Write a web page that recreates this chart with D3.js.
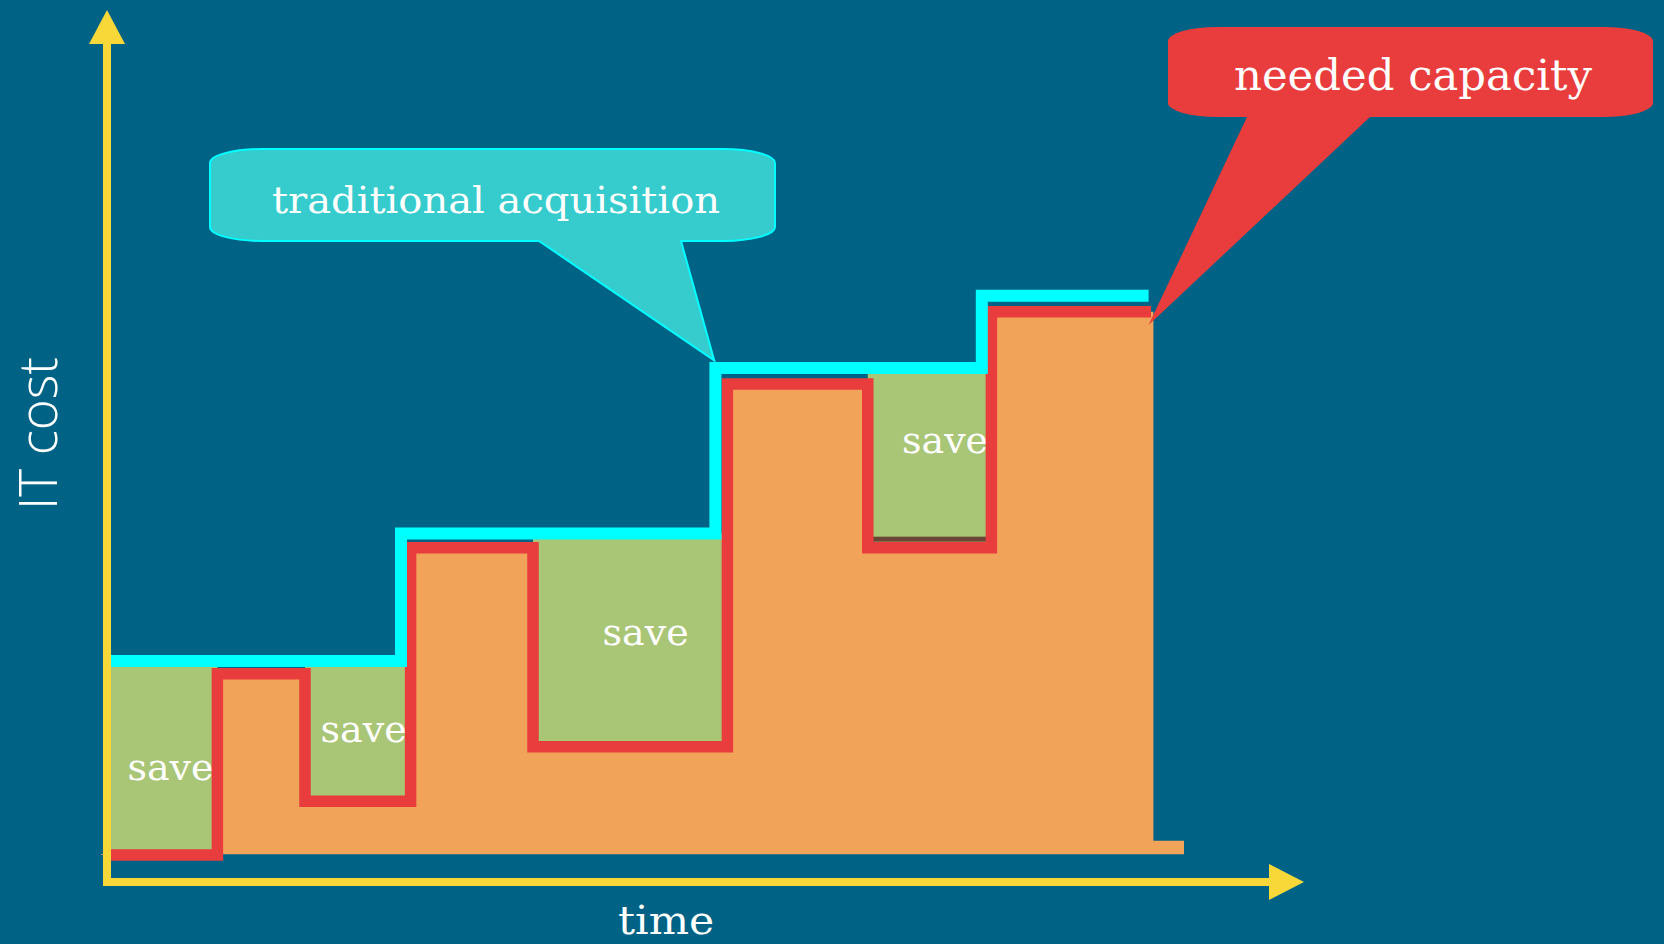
<!DOCTYPE html>
<html>
<head>
<meta charset="utf-8">
<script src="https://cdn.jsdelivr.net/npm/d3@7"></script>
<style>
  html, body { margin: 0; padding: 0; background: #006385; overflow: hidden; }
  svg { display: block; }
</style>
</head>
<body>
<svg id="chart" width="1664" height="944"></svg>
<script>
// Step series: change points in time, and the cost level held after each change
const neededTimes   = [0, 9.2, 16.5, 25.3, 35.5, 51.7, 63.4, 73.7, 87.0];
const neededCost    = [3.2, 24.8, 9.6, 39.8, 16.1, 59.3, 39.8, 67.9];
const acquiredTimes = [0, 24.5, 50.7, 72.9, 86.8];
const acquiredCost  = [26.3, 41.5, 61.2, 69.8];

// Filled capacity body: left/right limits, floor, and the small ledge at the foot
const bodyStart = -0.5, bodyEnd = 87.2, bodyFloor = 3.3;
const ledgeEnd = 89.75, ledgeCost = 4.9;

// Periods where the acquired capacity sits far above what is needed
const savePeriods = [[0, 9.2], [16.5, 25.3], [35.5, 51.7], [63.4, 73.7]];
const saveLabelAt = [[1.7, 12.1], [17.8, 16.7], [41.3, 28.2], [66.25, 51.1]];
const saveText = "save";

// Callout texts and the points their tails point at (time, cost)
const acquiredCalloutText = "traditional acquisition";
const acquiredCalloutTip  = [50.6, 62.1];
const neededCalloutText   = "needed capacity";
const neededCalloutTip    = [86.8, 66.3];

const xTitle = "time";
const yTitle = "IT cost";

const W = 1664, H = 944;
const svg = d3.select("#chart");

const x = d3.scaleLinear().domain([0, 100]).range([107, 1307]);
const y = d3.scaleLinear().domain([0, 100]).range([882, 42]);

const colors = {
  bg: "#006385", body: "#f2a35a", save: "#a9c576", needed: "#e93c3c",
  acquired: "#00ffff", bubble: "#36cbcc", axis: "#f8d838", text: "#ffffff",
  saveEdge: "#6b4535"
};

svg.append("rect").attr("width", W).attr("height", H).attr("fill", colors.bg);

function stepPoints(times, costs) {
  const pts = costs.map((c, i) => [times[i], c]);
  pts.push([times[times.length - 1], costs[costs.length - 1]]);
  return pts;
}
function levelAt(times, costs, t) {
  let i = d3.bisectRight(times, t) - 1;
  i = Math.max(0, Math.min(costs.length - 1, i));
  return costs[i];
}

// Orange body under the needed-capacity steps
const bodyTimes = neededTimes.slice(); bodyTimes[0] = bodyStart; bodyTimes[bodyTimes.length - 1] = bodyEnd;
const bodyPts = neededCost.map((c, i) => [bodyTimes[i], c]);
bodyPts.push([bodyEnd, ledgeCost], [ledgeEnd, ledgeCost]);
svg.append("path")
  .attr("d", d3.area().curve(d3.curveStepAfter)
    .x(d => x(d[0])).y0(y(bodyFloor)).y1(d => y(d[1]))(bodyPts))
  .attr("fill", colors.body);

// Green savings boxes
const saveG = svg.append("g");
savePeriods.forEach(([t0, t1], i) => {
  const mid = (t0 + t1) / 2;
  const top = levelAt(acquiredTimes, acquiredCost, mid);
  const bot = levelAt(neededTimes, neededCost, mid);
  saveG.append("rect")
    .attr("x", x(t0)).attr("width", x(t1) - x(t0))
    .attr("y", y(top)).attr("height", y(bot) - y(top))
    .attr("fill", colors.save);
  if (i === savePeriods.length - 1) {
    // darker lower edge on the last box
    saveG.append("rect")
      .attr("x", x(t0)).attr("width", x(t1) - x(t0))
      .attr("y", y(bot) - 11).attr("height", 5)
      .attr("fill", colors.saveEdge);
  }
  saveG.append("text")
    .attr("x", x(saveLabelAt[i][0])).attr("y", y(saveLabelAt[i][1]))
    .attr("font-family", "DejaVu Serif").attr("font-size", 38)
    .attr("fill", colors.text).text(saveText);
});

const stepLine = d3.line().curve(d3.curveStepAfter).x(d => x(d[0])).y(d => y(d[1]));

svg.append("path")
  .attr("d", stepLine(stepPoints(neededTimes, neededCost)))
  .attr("fill", "none").attr("stroke", colors.needed)
  .attr("stroke-width", 11.5).attr("stroke-linejoin", "miter");

svg.append("path")
  .attr("d", stepLine(stepPoints(acquiredTimes, acquiredCost)))
  .attr("fill", "none").attr("stroke", colors.acquired)
  .attr("stroke-width", 12).attr("stroke-linejoin", "miter");

// Callout: rounded box with a wedge tail on its bottom edge
function calloutPath(bx, by, bw, bh, rx, ry, tailL, tailR, tip) {
  const b = by + bh, r = bx + bw;
  return `M${bx + rx},${by} H${r - rx} A${rx},${ry} 0 0 1 ${r},${by + ry}` +
    ` V${b - ry} A${rx},${ry} 0 0 1 ${r - rx},${b} H${tailR} L${tip[0]},${tip[1]}` +
    ` L${tailL},${b} H${bx + rx} A${rx},${ry} 0 0 1 ${bx},${b - ry}` +
    ` V${by + ry} A${rx},${ry} 0 0 1 ${bx + rx},${by} Z`;
}

const tipA = [x(acquiredCalloutTip[0]), y(acquiredCalloutTip[1])];
svg.append("path")
  .attr("d", calloutPath(210, 149, 565, 92, 52, 14, 539, 681, tipA))
  .attr("fill", colors.bubble).attr("stroke", colors.acquired).attr("stroke-width", 2);
svg.append("text")
  .attr("x", 272).attr("y", 213)
  .attr("font-family", "DejaVu Serif").attr("font-size", 38)
  .attr("textLength", 448).attr("lengthAdjust", "spacingAndGlyphs")
  .attr("fill", colors.text).text(acquiredCalloutText);

const tipN = [x(neededCalloutTip[0]), y(neededCalloutTip[1])];
svg.append("path")
  .attr("d", calloutPath(1168, 27, 485, 90, 50, 14, 1247, 1370, tipN))
  .attr("fill", colors.needed);
svg.append("text")
  .attr("x", 1234).attr("y", 90)
  .attr("font-family", "DejaVu Serif").attr("font-size", 43)
  .attr("textLength", 358).attr("lengthAdjust", "spacingAndGlyphs")
  .attr("fill", colors.text).text(neededCalloutText);

// Axes with arrowheads
const ax = svg.append("g").attr("fill", colors.axis).attr("stroke", "none");
const x0 = x.range()[0], yBase = y.range()[0];
ax.append("rect").attr("x", x0 - 4).attr("y", 44).attr("width", 8).attr("height", yBase + 4 - 44);
ax.append("path").attr("d", `M${x0 - 18},44 L${x0 + 18},44 L${x0},10 Z`);
ax.append("rect").attr("x", x0 - 4).attr("y", yBase - 4).attr("width", 1269 - (x0 - 4)).attr("height", 8);
ax.append("path").attr("d", `M1269,${yBase - 18} L1269,${yBase + 18} L1304,${yBase} Z`);

svg.append("text")
  .attr("x", 618).attr("y", 934)
  .attr("font-family", "DejaVu Serif").attr("font-size", 40)
  .attr("textLength", 96).attr("lengthAdjust", "spacingAndGlyphs")
  .attr("fill", colors.text).text(xTitle);

svg.append("text")
  .attr("transform", "translate(57,510) rotate(-90)")
  .attr("font-family", "Open Sans, Lato, sans-serif").attr("font-weight", 300)
  .attr("font-size", 53)
  .attr("textLength", 153).attr("lengthAdjust", "spacingAndGlyphs")
  .attr("fill", colors.text).text(yTitle);
</script>
</body>
</html>
